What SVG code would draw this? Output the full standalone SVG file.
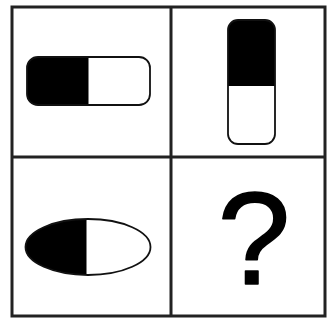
<svg xmlns="http://www.w3.org/2000/svg" width="328" height="320" viewBox="0 0 328 320">
<style>
.grid{fill:none;stroke:#222;stroke-width:3}
.outline{fill:none;stroke:#111;stroke-width:1.8}
.dark{fill:#000}
.q{font-family:"Liberation Sans",Arial,sans-serif;font-size:131px;fill:#000;stroke:#000;stroke-width:1.6;stroke-linejoin:round}
</style>
<rect width="328" height="320" fill="#fff"/>
<g id="grid">
<rect class="grid" x="12" y="7" width="313" height="309"/>
<line class="grid" x1="171" y1="7" x2="171" y2="316"/>
<line class="grid" x1="12" y1="157" x2="325" y2="157"/>
</g>
<defs>
<clipPath id="hp"><rect x="27" y="57" width="123" height="48" rx="11"/></clipPath>
<clipPath id="vp"><rect x="228" y="20" width="47" height="124" rx="10"/></clipPath>
<clipPath id="el"><ellipse cx="88" cy="247" rx="62.5" ry="28"/></clipPath>
</defs>
<g id="pill-horizontal">
<rect class="dark" x="27" y="57" width="61.5" height="48" clip-path="url(#hp)"/>
<rect class="outline" x="27" y="57" width="123" height="48" rx="11"/>
</g>
<g id="pill-vertical">
<rect class="dark" x="228" y="20" width="47" height="66" clip-path="url(#vp)"/>
<rect class="outline" x="228" y="20" width="47" height="124" rx="10"/>
</g>
<g id="ellipse">
<rect class="dark" x="25" y="219" width="61.5" height="56" clip-path="url(#el)"/>
<ellipse class="outline" cx="88" cy="247" rx="62.5" ry="28"/>
</g>
<g id="question">
<text class="q" x="254" y="283.5" text-anchor="middle">?</text>
</g>
</svg>
